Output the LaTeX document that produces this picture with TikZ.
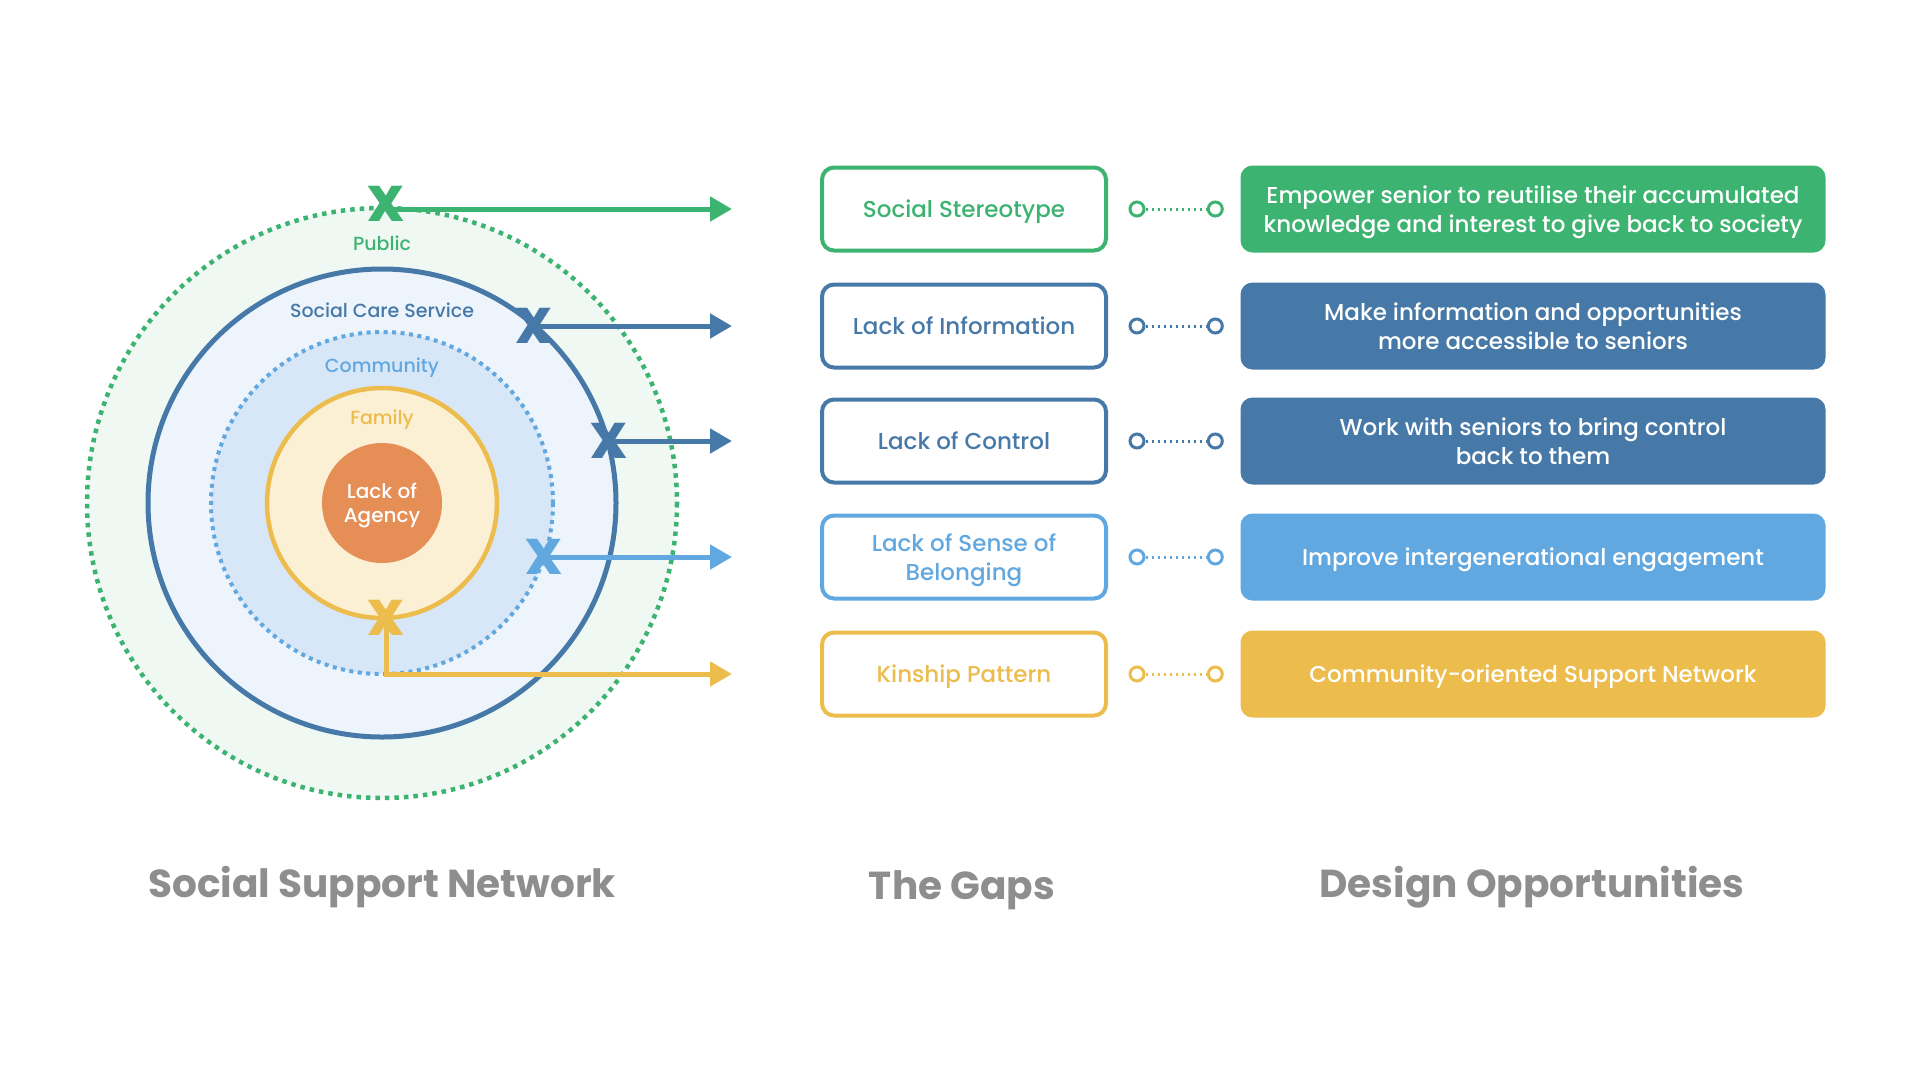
\documentclass[tikz,border=0pt]{standalone}
\usepackage{fontspec}
\setmainfont{Poppins}[UprightFont=* Medium, BoldFont=* Bold]
\newfontfamily\crossfont{Poppins ExtraBold}
\usetikzlibrary{arrows.meta}

\definecolor{pubgreen}{HTML}{3DB371}
\definecolor{carblue}{HTML}{4779A8}
\definecolor{comblue}{HTML}{62A8E0}
\definecolor{famyellow}{HTML}{ECBC4C}
\definecolor{agorange}{HTML}{E58F57}
\definecolor{titlegray}{HTML}{8E8E8E}
\definecolor{pubfill}{HTML}{F0F8F3}
\definecolor{carfill}{HTML}{EDF4FC}
\definecolor{comfill}{HTML}{D8E7F7}
\definecolor{famfill}{HTML}{FBEFD4}

\tikzset{
    gapbox/.style={draw=#1, text=#1, fill=white, line width=4pt, rounded corners=12pt,
        minimum width=284pt, minimum height=83pt, align=center, text depth=0pt,
        font=\fontsize{23}{29}\selectfont},
    oppbox/.style={fill=#1, text=white, rounded corners=12pt,
        minimum width=585pt, minimum height=87pt, align=center, text depth=0pt,
        font=\fontsize{23}{29}\selectfont},
    ring/.style={circle, draw=#1, fill=white, line width=3pt, minimum size=14pt, inner sep=0pt},
    link/.style={#1, line width=3pt, dash pattern=on 2.5pt off 3.5pt},
    gaparrow/.style={#1, line width=5pt, -{Triangle[length=22pt,width=24pt]}},
    cross/.style={text=#1, font=\fontsize{50}{50}\crossfont, inner sep=0pt,
        text height=35pt, text depth=0pt},
    ringlabel/.style={text=#1, font=\fontsize{19}{24}\selectfont, inner sep=1pt},
    title/.style={text=titlegray, font=\fontsize{39}{46}\selectfont\bfseries}
}

\begin{document}
\begin{tikzpicture}[x=1pt, y=-1pt]
    \useasboundingbox (0,0) rectangle (1920,1080);

    % Social support network rings
    \coordinate (core) at (382,503);
    \draw[pubgreen, fill=pubfill, line width=4.5pt, dash pattern=on 4.5pt off 5pt] (core) circle (295);
    \draw[carblue, fill=carfill, line width=5pt] (core) circle (234);
    \draw[comblue, fill=comfill, line width=4pt, dash pattern=on 4pt off 4.5pt] (core) circle (171);
    \draw[famyellow, fill=famfill, line width=4.5pt] (core) circle (115);
    \node[circle, fill=agorange, minimum size=120pt, inner sep=0pt, align=center,
        text=white, font=\fontsize{20}{24.5}\selectfont, text depth=0pt] (agency) at (core) {Lack of\\Agency};

    \node[ringlabel=pubgreen] (public) at (382,243) {Public};
    \node[ringlabel=carblue] (care) at (382,310) {Social Care Service};
    \node[ringlabel=comblue] (community) at (382,368) {Community};
    \node[ringlabel=famyellow] (family) at (382,420) {Family};

    % The gaps
    \node[gapbox=pubgreen] (gap1) at (964,209) {Social Stereotype};
    \node[gapbox=carblue] (gap2) at (964,326) {Lack of Information};
    \node[gapbox=carblue] (gap3) at (964,441) {Lack of Control};
    \node[gapbox=comblue] (gap4) at (964,557) {Lack of Sense of\\Belonging};
    \node[gapbox=famyellow] (gap5) at (964,674) {Kinship Pattern};

    % Design opportunities
    \node[oppbox=pubgreen] (opp1) at (1533,209) {Empower senior to reutilise their accumulated\\knowledge and interest to give back to society};
    \node[oppbox=carblue] (opp2) at (1533,326) {Make information and opportunities\\more accessible to seniors};
    \node[oppbox=carblue] (opp3) at (1533,441) {Work with seniors to bring control\\back to them};
    \node[oppbox=comblue] (opp4) at (1533,557) {Improve intergenerational engagement};
    \node[oppbox=famyellow] (opp5) at (1533,674) {Community-oriented Support Network};

    % Links gap -> opportunity
    \foreach \i/\c in {1/pubgreen, 2/carblue, 3/carblue, 4/comblue, 5/famyellow} {
        \node[ring=\c] (ga\i) at ([xshift=29pt]gap\i.east) {};
        \node[ring=\c] (op\i) at ([xshift=-25pt]opp\i.west) {};
        \draw[link=\c] (ga\i) -- (op\i);
    }

    % Breaks in the network
    \coordinate (xpub) at (386,204);
    \coordinate (xcare) at (534,326);
    \coordinate (xctrl) at (609,441);
    \coordinate (xcom) at (544,557);
    \coordinate (xfam) at (386,618);
    \coordinate (tip1) at (732,209);
    \coordinate (tip2) at (732,326);
    \coordinate (tip3) at (732,441);
    \coordinate (tip4) at (732,557);
    \coordinate (tip5) at (732,674);

    \draw[gaparrow=pubgreen] (xpub |- tip1) -- (tip1);
    \draw[gaparrow=carblue] (xcare) -- (tip2);
    \draw[gaparrow=carblue] (xctrl) -- (tip3);
    \draw[gaparrow=comblue] (xcom) -- (tip4);
    \draw[gaparrow=famyellow] (xfam) |- (tip5);

    \node[cross=pubgreen] (xpubmark) at (xpub) {X};
    \node[cross=carblue] (xcaremark) at (xcare) {X};
    \node[cross=carblue] (xctrlmark) at (xctrl) {X};
    \node[cross=comblue] (xcommark) at (xcom) {X};
    \node[cross=famyellow] (xfammark) at (xfam) {X};

    % Column titles
    \node[title] (nettitle) at (382,887) {Social Support Network};
    \node[title] (gaptitle) at (962,890) {The Gaps};
    \node[title] (opptitle) at (1532,887) {Design Opportunities};
\end{tikzpicture}
\end{document}
